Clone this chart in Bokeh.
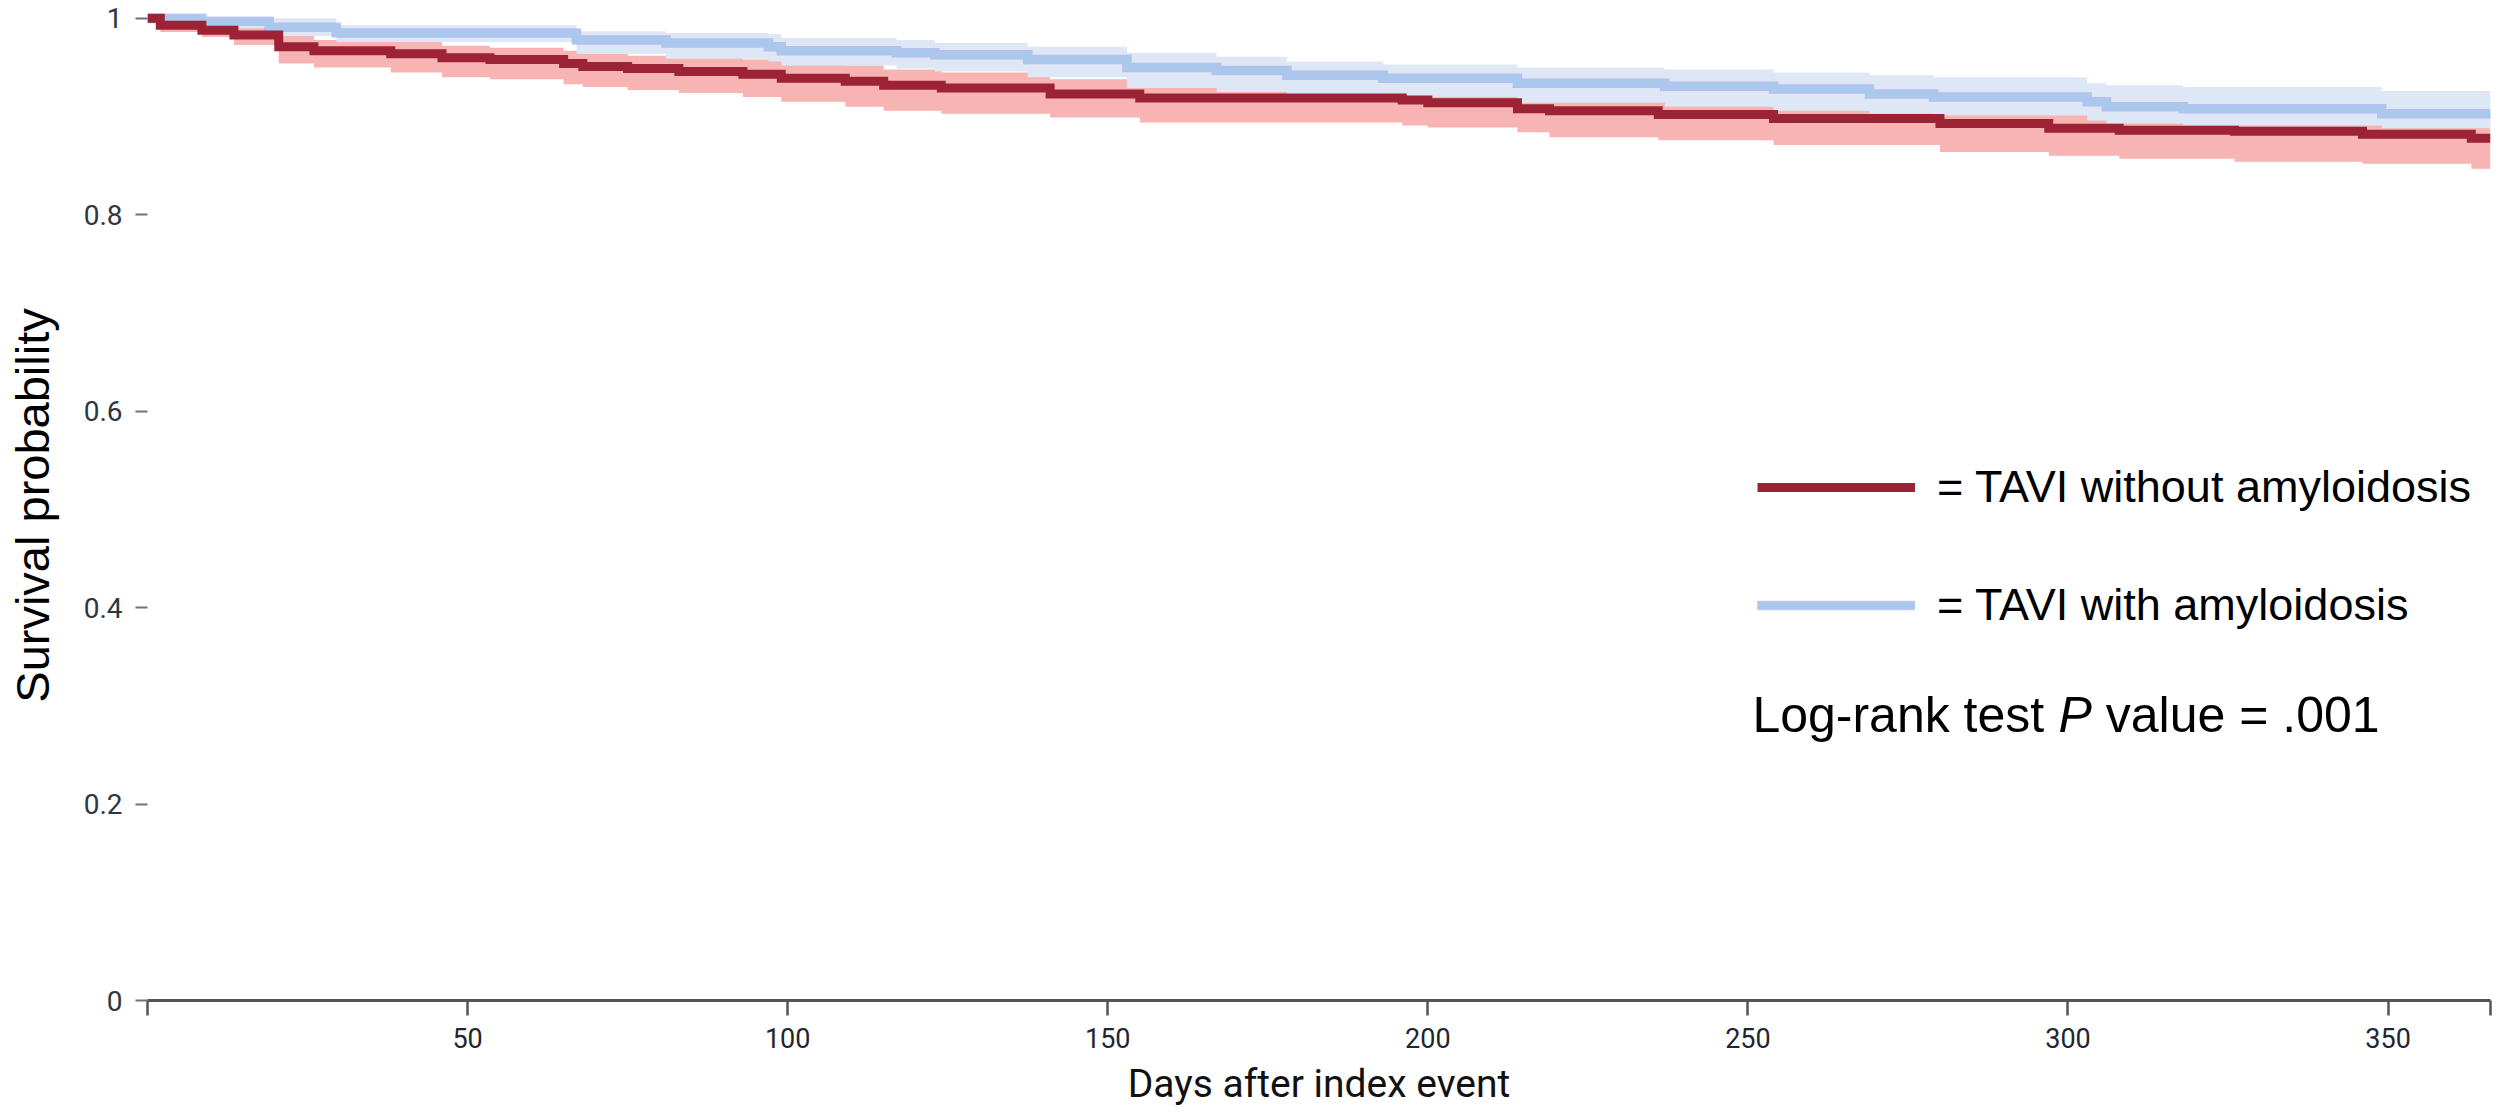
from bokeh.plotting import figure
from bokeh.models import Range1d, FixedTicker, Legend, LegendItem, Label
from bokeh.embed import file_html
from bokeh.resources import INLINE

# ---- data ----
days_without = [0, 2, 8.5, 13.5, 20.5, 26, 38, 46, 53.5, 65, 68, 75, 83, 93, 99, 109, 115, 124,
                141, 155, 196, 200, 214, 219, 236, 254, 280, 297, 308, 326, 346, 363, 366]
surv_without = [1.0, 0.993, 0.988, 0.983, 0.971, 0.967, 0.964, 0.960, 0.958, 0.954, 0.951, 0.949,
                0.946, 0.943, 0.939, 0.936, 0.932, 0.929, 0.923, 0.919, 0.917, 0.914, 0.908, 0.906,
                0.902, 0.898, 0.893, 0.888, 0.886, 0.885, 0.882, 0.878, 0.878]
lower_without = [0.995, 0.986, 0.981, 0.973, 0.954, 0.950, 0.945, 0.940, 0.938, 0.933, 0.930, 0.927,
                 0.924, 0.920, 0.915, 0.910, 0.906, 0.903, 0.899, 0.894, 0.891, 0.889, 0.884, 0.879,
                 0.876, 0.871, 0.864, 0.860, 0.857, 0.854, 0.852, 0.847, 0.847]
upper_without = [1.0, 0.998, 0.995, 0.992, 0.982, 0.978, 0.976, 0.972, 0.970, 0.967, 0.964, 0.962,
                 0.960, 0.958, 0.955, 0.952, 0.948, 0.945, 0.938, 0.934, 0.933, 0.930, 0.925, 0.923,
                 0.920, 0.917, 0.913, 0.909, 0.907, 0.906, 0.904, 0.901, 0.901]

days_with = [0, 8.5, 19, 29.5, 67, 81, 97, 99, 117, 123, 137.5, 153, 167, 178, 193, 214, 237, 254,
             269, 279, 303, 306, 318, 349, 366]
surv_with = [1.0, 0.997, 0.991, 0.985, 0.978, 0.975, 0.971, 0.967, 0.965, 0.963, 0.958, 0.950, 0.947,
             0.942, 0.939, 0.934, 0.931, 0.928, 0.923, 0.920, 0.915, 0.910, 0.908, 0.903, 0.903]
upper_with = [1.0, 1.0, 1.0, 0.993, 0.987, 0.985, 0.984, 0.980, 0.978, 0.975, 0.971, 0.965, 0.961,
              0.956, 0.953, 0.950, 0.948, 0.945, 0.942, 0.940, 0.934, 0.932, 0.930, 0.926, 0.924]
lower_with = [1.0, 0.990, 0.982, 0.976, 0.964, 0.959, 0.956, 0.952, 0.949, 0.946, 0.940, 0.929, 0.925,
              0.923, 0.920, 0.914, 0.910, 0.906, 0.903, 0.901, 0.896, 0.893, 0.891, 0.888, 0.886]

x_ticks = [0, 50, 100, 150, 200, 250, 300, 350, 366]
x_tick_labels = {0: "", 50: "50", 100: "100", 150: "150", 200: "200", 250: "250",
                 300: "300", 350: "350", 366: ""}
y_ticks = [0, 0.2, 0.4, 0.6, 0.8, 1]
y_tick_labels = {0: "0", 0.2: "0.2", 0.4: "0.4", 0.6: "0.6", 0.8: "0.8", 1: "1"}

label_without = "= TAVI without amyloidosis"
label_with = "= TAVI with amyloidosis"
y_title = "Survival probability"
x_title = "Days after index event"

# ---- colours ----
RED = "#9c2236"
PINK = "#f8b3b3"
BLUE = "#aac7ec"
LIGHT_BLUE = "#dde7f6"
PURPLE = "#9d7cf2"

p = figure(width=2497, height=1115, output_backend="svg", toolbar_location=None,
           x_range=Range1d(0, 366), y_range=Range1d(0, 1.008),
           min_border_left=147, min_border_right=7, min_border_top=10, min_border_bottom=115)
p.outline_line_color = None
p.grid.visible = False
p.background_fill_color = "white"

# confidence bands
p.varea_step(x=days_without, y1=lower_without, y2=upper_without, step_mode="after",
             fill_color=PINK, fill_alpha=1.0)
p.varea_step(x=days_with, y1=lower_with, y2=upper_with, step_mode="after",
             fill_color=LIGHT_BLUE, fill_alpha=1.0)

# curves
r_purple = p.step(x=days_with, y=surv_with, mode="after", line_color=PURPLE, line_width=9.5,
                  line_alpha=0.45, line_join="miter")
r_blue = p.step(x=days_with, y=surv_with, mode="after", line_color=BLUE, line_width=8,
                line_join="miter")
r_red = p.step(x=days_without, y=surv_without, mode="after", line_color=RED, line_width=9,
               line_join="miter")

# axes
xa = p.xaxis[0]
xa.ticker = FixedTicker(ticks=x_ticks)
xa.major_label_overrides = x_tick_labels
xa.axis_line_color = "#555555"
xa.axis_line_width = 3
xa.major_tick_line_color = "#555555"
xa.major_tick_line_width = 2.5
xa.major_tick_out = 15
xa.major_tick_in = 0
xa.minor_tick_line_color = None
xa.major_label_standoff = 12
xa.major_label_text_font = "Roboto"
xa.major_label_text_font_size = "27px"
xa.major_label_text_color = "#1e2630"
xa.axis_label = x_title
xa.axis_label_text_font = "Roboto"
xa.axis_label_text_font_size = "39px"
xa.axis_label_text_font_style = "normal"
xa.axis_label_text_color = "#111111"
xa.axis_label_standoff = 10

ya = p.yaxis[0]
ya.ticker = FixedTicker(ticks=y_ticks)
ya.major_label_overrides = y_tick_labels
ya.axis_line_color = None
ya.major_tick_line_color = "#6b7580"
ya.major_tick_line_width = 2
ya.major_tick_out = 12
ya.major_tick_in = 0
ya.minor_tick_line_color = None
ya.major_label_standoff = 13
ya.major_label_text_font = "Roboto"
ya.major_label_text_font_size = "28px"
ya.major_label_text_color = "#2e3640"
ya.axis_label = y_title
ya.axis_label_text_font = "Liberation Sans"
ya.axis_label_text_font_size = "47px"
ya.axis_label_text_font_style = "normal"
ya.axis_label_text_color = "#000000"
ya.axis_label_standoff = 22

# legend
legend = Legend(items=[LegendItem(label=label_without, renderers=[r_red]),
                       LegendItem(label=label_with, renderers=[r_purple, r_blue])],
                location=(1610, 365), orientation="vertical",
                glyph_width=158, glyph_height=60, label_height=60, spacing=58,
                padding=0, margin=0, label_standoff=22,
                label_text_font="Liberation Sans", label_text_font_size="45px",
                label_text_color="#000000",
                border_line_color=None, background_fill_alpha=0)
p.add_layout(legend)

# log-rank annotation
common = dict(y=0.291, text_font="Liberation Sans", text_font_size="50px",
              text_baseline="middle", text_color="#000000")
p.add_layout(Label(x=250.7, text="Log-rank test", **common))
p.add_layout(Label(x=298.5, text="P", text_font_style="italic", **common))
p.add_layout(Label(x=305.9, text="value = .001", **common))

open("out.html", "w").write(file_html(p, INLINE))
